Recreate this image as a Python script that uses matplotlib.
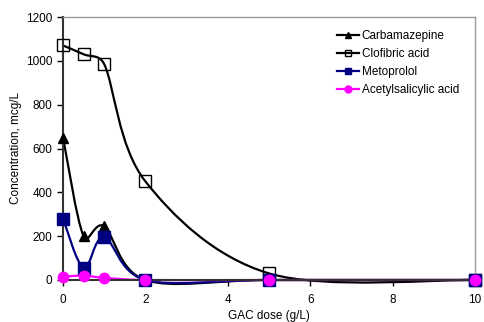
import matplotlib
matplotlib.use("Agg")
import matplotlib.pyplot as plt
import numpy as np
from matplotlib.path import Path
from matplotlib.patches import PathPatch
from matplotlib.lines import Line2D

plt.rcParams['font.family'] = ['Liberation Sans', 'DejaVu Sans']

dose = [0, 0.5, 1, 2, 5, 10]
carbamazepine = [650, 200, 245, 0, 0, 0]
clofibric = [1070, 1030, 985, 450, 30, 0]
metoprolol = [280, 55, 195, 0, 0, 0]
acetylsalicylic = [15, 20, 10, 0, 0, 0]

names = ["Carbamazepine", "Clofibric acid", "Metoprolol", "Acetylsalicylic acid"]
series = [carbamazepine, clofibric, metoprolol, acetylsalicylic]
colors = ["black", "black", "#000080", "#ff00ff"]
markers = ["^", "s", "s", "o"]
mfc = ["black", "none", "#000080", "#ff00ff"]
msizes = [7.5, 8.5, 8, 7.5]

fig = plt.figure(figsize=(4.84, 3.22), dpi=100)
ax = fig.add_axes([63/484, 1-280/322, (475-63)/484, (280-17)/322])
ax.set_xlim(0, 10)
ax.set_ylim(0, 1200)


def excel_smooth(x, y):
    # Excel-style smoothed line: Bezier segments computed in display space
    pts = ax.transData.transform(np.column_stack([x, y]).astype(float))
    n = len(pts)
    verts = [pts[0]]
    codes = [Path.MOVETO]
    f = 1.0 / 6.0
    for i in range(n - 1):
        p0 = pts[max(i - 1, 0)]
        p1 = pts[i]
        p2 = pts[i + 1]
        p3 = pts[min(i + 2, n - 1)]
        d02 = np.hypot(*(p2 - p0))
        d12 = np.hypot(*(p2 - p1))
        d13 = np.hypot(*(p3 - p1))
        f0 = f if (d02 * f < d12 / 2 or d02 == 0) else d12 / d02 / 2
        f3 = f if (d13 * f < d12 / 2 or d13 == 0) else d12 / d13 / 2
        c1 = p1 + f0 * (p2 - p0)
        c2 = p2 - f3 * (p3 - p1)
        verts += [c1, c2, p2]
        codes += [Path.CURVE4] * 3
    verts = ax.transData.inverted().transform(np.array(verts))
    return Path(verts, codes)


for nm, ys, c, m, fc, ms in zip(names, series, colors, markers, mfc, msizes):
    ax.add_patch(PathPatch(excel_smooth(dose, ys), facecolor='none', edgecolor=c,
                           lw=1.6, zorder=2, clip_on=False))
    ax.plot(dose, ys, linestyle='none', marker=m, color=c, mfc=fc, mec=c, ms=ms,
            mew=1, zorder=3, clip_on=False)

ax.set_xticks([0, 2, 4, 6, 8, 10])
ax.set_yticks([0, 200, 400, 600, 800, 1000, 1200])
ax.tick_params(labelsize=8.5, direction='out', length=4, width=1, colors='black')
ax.tick_params(axis='x', pad=6)
for s in ['top', 'right']:
    ax.spines[s].set_color('#999999')
    ax.spines[s].set_linewidth(1)
for s in ['left', 'bottom']:
    ax.spines[s].set_color('#333333')
    ax.spines[s].set_linewidth(1.5)
ax.set_xlabel("GAC dose (g/L)", fontsize=8.5, labelpad=3)
ax.set_ylabel("Concentration, mcg/L", fontsize=8.5, labelpad=3)

handles = [Line2D([], [], color=c, marker=m, mfc=fc, mec=c, ms=5, lw=1.6)
           for c, m, fc in zip(colors, markers, mfc)]
fig.legend(handles, names, loc='upper left', bbox_to_anchor=(337/484, 1-30/322),
           frameon=False, fontsize=8.5, handlelength=1.9, handletextpad=0.2,
           labelspacing=0.5, borderpad=0, borderaxespad=0)

fig.savefig("out.png", dpi=100)
